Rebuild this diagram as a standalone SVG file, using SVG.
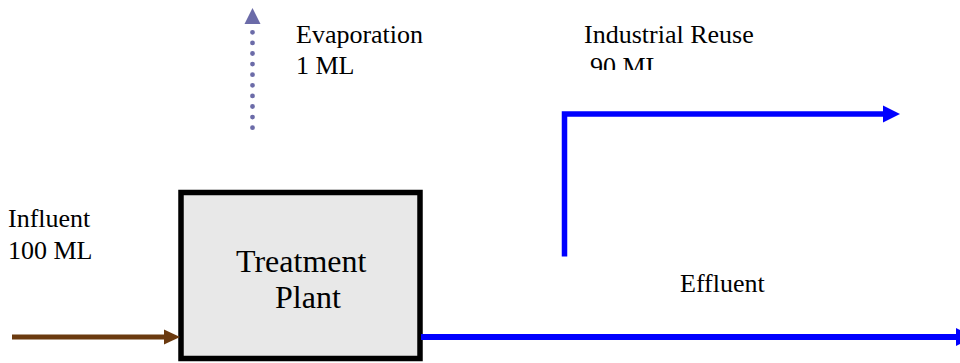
<svg xmlns="http://www.w3.org/2000/svg" width="960" height="363" viewBox="0 0 960 363">
<style>
.t{font-family:"Liberation Serif","Times New Roman","DejaVu Serif",serif;fill:#000;font-size:26px}
.big{font-size:32px}
</style>
<defs>
<clipPath id="clip90"><rect x="550" y="0" width="300" height="70"/></clipPath>
</defs>
<rect width="960" height="363" fill="#fff"/>
<g id="treatment-plant">
<rect x="181" y="192.5" width="239" height="166" fill="#e8e8e8" stroke="#000" stroke-width="5.5"/>
<text class="t big" x="236" y="272">Treatment</text>
<text class="t big" x="275" y="308">Plant</text>
</g>
<g id="influent-label">
<text class="t" x="8" y="227">Influent</text>
<text class="t" x="8" y="259">100 ML</text>
</g>
<g id="evaporation-label">
<text class="t" x="296" y="43">Evaporation</text>
<text class="t" x="296" y="74">1 ML</text>
</g>
<g id="reuse-label">
<text class="t" x="584" y="43">Industrial Reuse</text>
<text class="t" x="590" y="75" clip-path="url(#clip90)">90 ML</text>
</g>
<g id="effluent-label">
<text class="t" x="680" y="292">Effluent</text>
</g>
<g id="connectors">
<line x1="12" y1="337" x2="166" y2="337" stroke="#6b3a0f" stroke-width="5"/>
<polygon points="164,329.5 180,337 164,344.5" fill="#6b3a0f"/>
<line x1="252.5" y1="32.3" x2="252.5" y2="128" stroke="#6b6ba8" stroke-width="4.8" stroke-linecap="round" stroke-dasharray="0 10.6"/>
<polygon points="244.5,24 252.5,8 260.5,24" fill="#6b6ba8"/>
<polyline points="564.5,256.5 564.5,114 884,114" fill="none" stroke="#0000ff" stroke-width="5.5"/>
<polygon points="883,105.5 900,114 883,122.5" fill="#0000ff"/>
<line x1="421" y1="337" x2="958" y2="337" stroke="#0000ff" stroke-width="6"/>
<polygon points="956,328 973,337 956,346" fill="#0000ff"/>
</g>
</svg>
